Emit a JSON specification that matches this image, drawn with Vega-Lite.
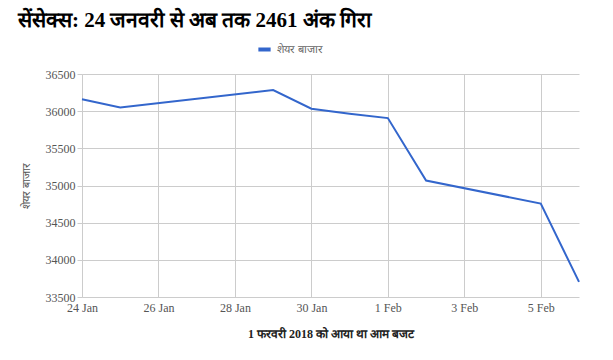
{
  "$schema": "https://vega.github.io/schema/vega-lite/v6.json",
  "width": 497,
  "height": 223,
  "autosize": {"type": "none"},
  "padding": {"left": 82, "top": 74, "right": 34, "bottom": 63},
  "background": "white",
  "title": {
    "text": "सेंसेक्स: 24 जनवरी से अब तक 2461 अंक गिरा",
    "anchor": "start",
    "frame": "group",
    "dx": -64,
    "fontSize": 21,
    "fontWeight": "bold",
    "font": "Liberation Serif",
    "color": "#000000",
    "offset": 10
  },
  "data": {
    "values": [
      {"date": "2018-01-24", "value": 36161, "series": "शेयर बाजार"},
      {"date": "2018-01-25", "value": 36050, "series": "शेयर बाजार"},
      {"date": "2018-01-29", "value": 36283, "series": "शेयर बाजार"},
      {"date": "2018-01-30", "value": 36033, "series": "शेयर बाजार"},
      {"date": "2018-01-31", "value": 35965, "series": "शेयर बाजार"},
      {"date": "2018-02-01", "value": 35907, "series": "शेयर बाजार"},
      {"date": "2018-02-02", "value": 35067, "series": "शेयर बाजार"},
      {"date": "2018-02-05", "value": 34757, "series": "शेयर बाजार"},
      {"date": "2018-02-06", "value": 33703, "series": "शेयर बाजार"}
    ]
  },
  "mark": {"type": "line", "strokeWidth": 2},
  "encoding": {
    "x": {
      "field": "date",
      "type": "temporal",
      "scale": {"domain": [{"year": 2018, "month": 1, "date": 24}, {"year": 2018, "month": 2, "date": 6}]},
      "axis": {
        "values": [
          {"year": 2018, "month": 1, "date": 24},
          {"year": 2018, "month": 1, "date": 26},
          {"year": 2018, "month": 1, "date": 28},
          {"year": 2018, "month": 1, "date": 30},
          {"year": 2018, "month": 2, "date": 1},
          {"year": 2018, "month": 2, "date": 3},
          {"year": 2018, "month": 2, "date": 5}
        ],
        "format": "%-d %b",
        "title": "1 फरवरी 2018 को आया था आम बजट",
        "titleFont": "Liberation Serif",
        "titleFontSize": 12,
        "titleFontWeight": "bold",
        "titleColor": "#222222",
        "titlePadding": 15,
        "labelFont": "Liberation Serif",
        "labelFontSize": 12,
        "labelColor": "#555555",
        "labelPadding": 5,
        "ticks": false,
        "domain": false,
        "grid": true,
        "gridColor": "#cccccc",
        "labelFlush": false
      }
    },
    "y": {
      "field": "value",
      "type": "quantitative",
      "scale": {"domain": [33500, 36500], "nice": false, "zero": false},
      "axis": {
        "values": [33500, 34000, 34500, 35000, 35500, 36000, 36500],
        "format": "d",
        "title": "शेयर बाजार",
        "titleFont": "Liberation Serif",
        "titleFontSize": 11,
        "titleFontWeight": "normal",
        "titleColor": "#555555",
        "titlePadding": 14,
        "labelFont": "Liberation Serif",
        "labelFontSize": 12,
        "labelColor": "#555555",
        "labelPadding": 2,
        "tickSize": 5,
        "tickColor": "#cccccc",
        "domainColor": "#cccccc",
        "gridColor": "#cccccc"
      }
    },
    "color": {
      "field": "series",
      "type": "nominal",
      "scale": {"range": ["#3366cc"]},
      "legend": {
        "orient": "none",
        "legendX": 174,
        "legendY": -33,
        "title": null,
        "symbolType": "stroke",
        "symbolSize": 150,
        "symbolStrokeWidth": 4,
        "labelFont": "Liberation Serif",
        "labelFontSize": 11,
        "labelColor": "#666666"
      }
    }
  },
  "config": {
    "view": {"stroke": null}
  }
}
